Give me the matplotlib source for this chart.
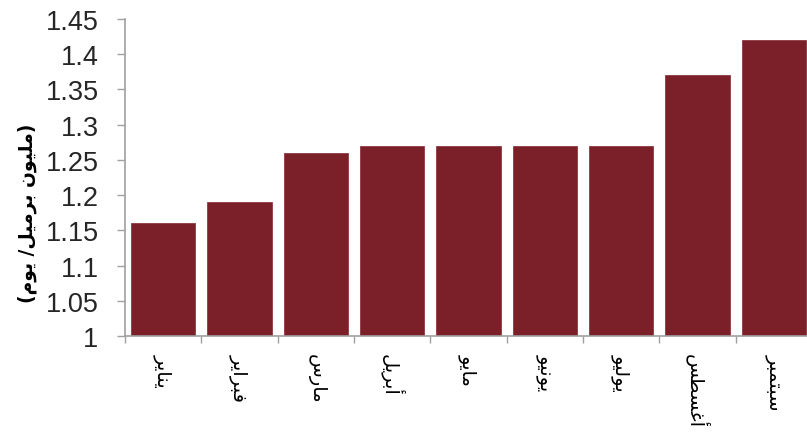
import matplotlib
matplotlib.use("Agg")
import matplotlib.pyplot as plt
import numpy as np

months = ["يناير", "فبراير", "مارس", "أبريل", "مايو", "يونيو", "يوليو", "أغسطس", "سبتمبر"]
values = [1.16, 1.19, 1.26, 1.27, 1.27, 1.27, 1.27, 1.37, 1.42]
y_ticks = [1, 1.05, 1.1, 1.15, 1.2, 1.25, 1.3, 1.35, 1.4, 1.45]
y_label = "(مليون برميل/ يوم)"

# matplotlib has no arabic shaping, so map letters to presentation forms
# (isolated, final, initial, medial) and reverse for right-to-left display
forms = {
    "ا": (0xFE8D, 0xFE8E, None, None),
    "أ": (0xFE83, 0xFE84, None, None),
    "ر": (0xFEAD, 0xFEAE, None, None),
    "و": (0xFEED, 0xFEEE, None, None),
    "ب": (0xFE8F, 0xFE90, 0xFE91, 0xFE92),
    "ت": (0xFE95, 0xFE96, 0xFE97, 0xFE98),
    "س": (0xFEB1, 0xFEB2, 0xFEB3, 0xFEB4),
    "ط": (0xFEC1, 0xFEC2, 0xFEC3, 0xFEC4),
    "غ": (0xFECD, 0xFECE, 0xFECF, 0xFED0),
    "ف": (0xFED1, 0xFED2, 0xFED3, 0xFED4),
    "ل": (0xFEDD, 0xFEDE, 0xFEDF, 0xFEE0),
    "م": (0xFEE1, 0xFEE2, 0xFEE3, 0xFEE4),
    "ن": (0xFEE5, 0xFEE6, 0xFEE7, 0xFEE8),
    "ي": (0xFEF1, 0xFEF2, 0xFEF3, 0xFEF4),
}


def shape(text):
    out = []
    for i, ch in enumerate(text):
        if ch not in forms:
            out.append(ch)
            continue
        prev = text[i - 1] if i > 0 else ""
        nxt = text[i + 1] if i + 1 < len(text) else ""
        join_prev = prev in forms and forms[prev][2] is not None
        join_next = forms[ch][2] is not None and nxt in forms
        if join_prev and join_next:
            code = forms[ch][3]
        elif join_prev:
            code = forms[ch][1]
        elif join_next:
            code = forms[ch][2]
        else:
            code = forms[ch][0]
        out.append(chr(code))
    vis = "".join(reversed(out))
    return vis.translate(str.maketrans("()", ")("))


plt.rcParams["font.family"] = ["Liberation Sans", "DejaVu Sans"]

fig = plt.figure(figsize=(8.07, 4.35), dpi=100)
ax = fig.add_axes([125 / 807, 1 - 337 / 435, 687 / 807, 317 / 435])

x = np.arange(len(months))
ax.bar(x, values, width=0.84, color="#7B1F28", edgecolor="#8E3a42", linewidth=0.6)

ax.set_xlim(-0.5, len(months) - 0.5)
ax.set_ylim(1, 1.45)
ax.set_yticks(y_ticks)
ax.set_yticklabels([f"{t:g}" for t in y_ticks], fontsize=19.5, color="#262626")

ax.set_xticks(x)
ax.set_xticklabels([shape(m) for m in months], rotation=270, fontsize=14,
                   family=["DejaVu Sans"], va="top", ha="center")
ax.set_xticks(np.arange(len(months) + 1) - 0.5, minor=True)
ax.tick_params(axis="x", which="major", length=0, pad=12)
ax.tick_params(axis="x", which="minor", length=5, color="#a0a0a0", width=1)
ax.tick_params(axis="y", length=6, color="#a0a0a0", width=1, pad=13)

for s in ["top", "right"]:
    ax.spines[s].set_visible(False)
for s in ["left", "bottom"]:
    ax.spines[s].set_color("#a0a0a0")
    ax.spines[s].set_linewidth(1.2)

fig.text(27 / 807, 1 - 213 / 435, shape(y_label), rotation=90, fontsize=13.5,
         fontweight="bold", family=["DejaVu Sans"], ha="center", va="center")

fig.savefig("out.png", dpi=100)
